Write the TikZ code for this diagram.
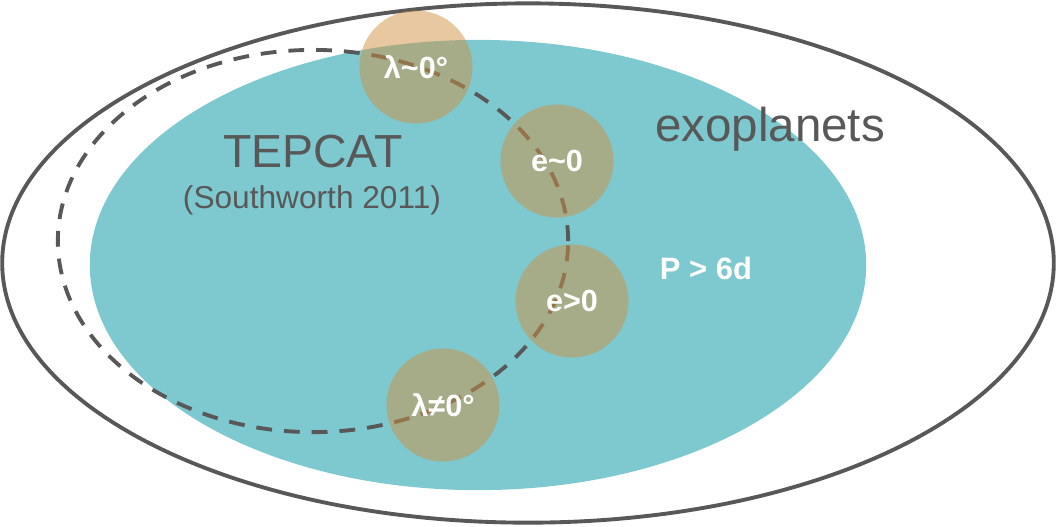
\documentclass[tikz,border=0pt]{standalone}
\usepackage{fontspec}
\setmainfont{Liberation Sans}
\definecolor{tepteal}{RGB}{126,200,208}
\definecolor{ringgray}{RGB}{88,88,88}
\definecolor{bubbletan}{RGB}{209,145,65}

\begin{document}
\begin{tikzpicture}[x=0.01cm,y=-0.01cm,
  ring/.style={draw=ringgray,line width=1.1pt},
  bubble/.style={circle,fill=bubbletan,fill opacity=0.5,text opacity=1,text=white,
    minimum size=1.13cm,inner sep=0pt,font=\bfseries\fontsize{8.7}{10}\selectfont},
  bigtext/.style={text=ringgray,inner sep=0pt}]
  \useasboundingbox (0,0) rectangle (1057,526);
  % the sets
  \draw[ring] (528,263) ellipse [x radius=5.255cm, y radius=2.595cm];
  \fill[tepteal] (478,265) ellipse [x radius=3.88cm, y radius=2.25cm];
  \draw[ring,dash pattern=on 4.5pt off 3.4pt] (313,241) ellipse [x radius=2.55cm, y radius=1.91cm];
  % the bubbles along the dashed loop
  \node[bubble] (lamzero) at (416,67) {λ\textasciitilde 0°};
  \node[bubble] (ezero) at (557,161) {e\textasciitilde 0};
  \node[bubble] (epos) at (572,301) {e>0};
  \node[bubble] (lamnot) at (443,405) {λ≠0°};
  % labels
  \node[bigtext,font=\fontsize{13.2}{16}\selectfont] (tepcat) at (313,152) {TEPCAT};
  \node[bigtext,font=\fontsize{9}{11}\selectfont] (ref) at (312,200) {(Southworth 2011)};
  \node[bigtext,font=\fontsize{13.5}{16}\selectfont] (exo) at (770,129) {exoplanets};
  \node[inner sep=0pt,text=white,font=\bfseries\fontsize{8.8}{10}\selectfont] (period) at (706,268) {P > 6d};
\end{tikzpicture}
\end{document}
